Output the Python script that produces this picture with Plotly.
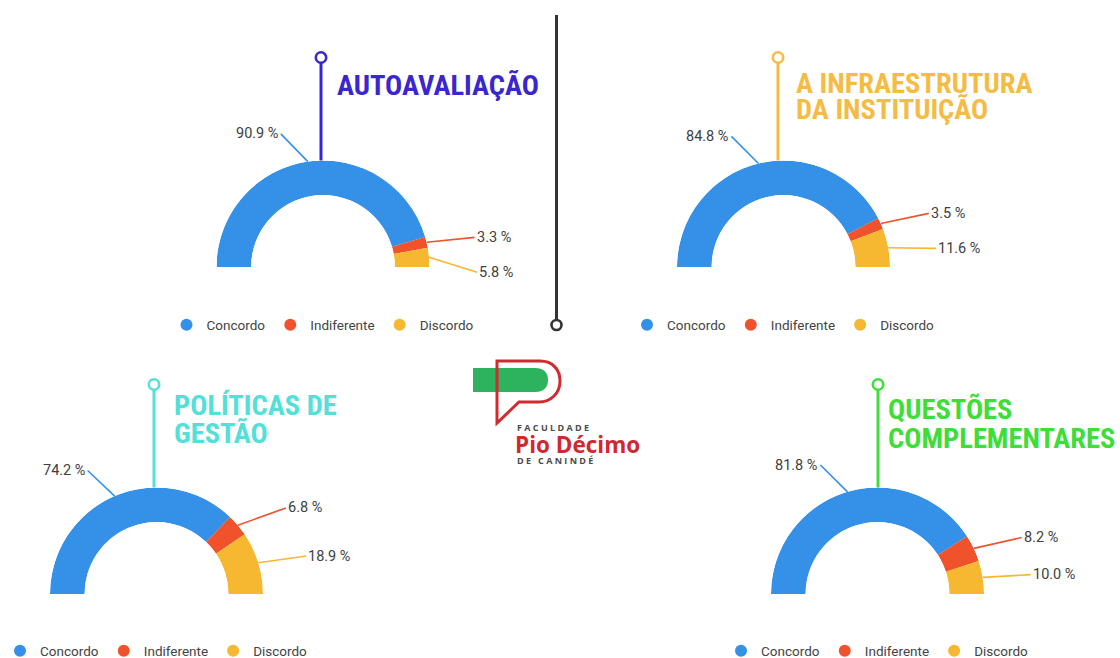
import math
import plotly.graph_objects as go

# ---------------- data ----------------
categories = ["Concordo", "Indiferente", "Discordo"]
chart_titles = [
    ["AUTOAVALIAÇÃO"],
    ["A INFRAESTRUTURA", "DA INSTITUIÇÃO"],
    ["POLÍTICAS DE", "GESTÃO"],
    ["QUESTÕES", "COMPLEMENTARES"],
]
autoavaliacao = [90.9, 3.3, 5.8]
infraestrutura = [84.8, 3.5, 11.6]
politicas_gestao = [74.2, 6.8, 18.9]
questoes_complementares = [81.8, 8.2, 10.0]
series = [autoavaliacao, infraestrutura, politicas_gestao, questoes_complementares]

# ---------------- style / layout ----------------
W, H = 1120, 658
slice_colors = ["#3591E8", "#F0522C", "#F5B830"]
title_colors = ["#3A26CF", "#F5BC45", "#52E0D8", "#3FDD3A"]
centers = [(323, 267), (783.5, 267), (156.5, 594), (877.5, 594)]
R = 106.5
HOLE = 0.675
pin_x = [321, 778, 154, 878]
pin_len = 103
title_x = [335, 794, 172, 886]
title_y = [[85], [83, 110], [405, 433], [410, 438]]
legend_y = [325, 325, 651, 651]
label_color = "#404040"
TITLE_FONT = "Roboto Condensed, Roboto, Arial"
TEXT_FONT = "Roboto, Arial"


def px(x):
    return x / W


def py(y):
    return 1 - y / H


def P(x, y):
    return f"{px(x):.5f},{py(y):.5f}"


fig = go.Figure()
annotations = []
shapes = []


def circle(x, y, r, color, width):
    shapes.append(dict(type="circle", xref="paper", yref="paper",
                       x0=px(x - r), x1=px(x + r), y0=py(y + r), y1=py(y - r),
                       line=dict(color=color, width=width), fillcolor="white", layer="above"))


for i, vals in enumerate(series):
    cx, cy = centers[i]
    sp = "polar" if i == 0 else f"polar{i + 1}"
    lg = "legend" if i == 0 else f"legend{i + 1}"
    tot = sum(vals)
    thetas, widths = [], []
    cum = 0
    for v in vals:
        widths.append(v / tot * 180)
        thetas.append((cum + v / 2) / tot * 180)
        cum += v
    fig.add_trace(go.Barpolar(
        r=[1] * len(vals), theta=thetas, width=widths,
        marker=dict(color=slice_colors, line=dict(width=0)),
        subplot=sp, showlegend=False, hoverinfo="skip"))
    # legend entries (circle symbols)
    for k, cat in enumerate(categories):
        fig.add_trace(go.Scatter(x=[None], y=[None], mode="markers", name=cat,
                                 marker=dict(size=12, color=slice_colors[k]),
                                 legend=lg, showlegend=True))
    fig.update_layout({
        sp: dict(
            domain=dict(x=[px(cx - R), px(cx + R)], y=[py(cy), py(cy - R)]),
            sector=[0, 180], hole=HOLE, bgcolor="rgba(0,0,0,0)",
            radialaxis=dict(visible=False, range=[0, 1]),
            angularaxis=dict(visible=False, direction="clockwise", rotation=180),
        ),
        lg: dict(orientation="h", x=px(cx), xanchor="center", y=py(legend_y[i]),
                 yanchor="middle", xref="paper", yref="paper",
                 font=dict(family=TEXT_FONT, size=13.5, color="#444444"),
                 bgcolor="rgba(0,0,0,0)", itemwidth=30),
    })
    # percentage labels with connectors
    prev_right_y = None
    for k, v in enumerate(vals):
        ang = math.radians(180 - thetas[k])
        tipx = cx + R * math.cos(ang)
        tipy = cy - R * math.sin(ang)
        ly = cy - (R + 30) * math.sin(ang) + 2
        right = math.cos(ang) > 0
        if right:
            if prev_right_y is not None and ly < prev_right_y + 35:
                ly = prev_right_y + 35
            prev_right_y = ly
            lx = tipx + 48
        else:
            lx = tipx - 27
        annotations.append(dict(
            x=px(tipx), y=py(tipy), xref="paper", yref="paper",
            ax=lx - tipx, ay=ly - tipy, axref="pixel", ayref="pixel",
            text=f"{v:.1f} %", showarrow=True, arrowhead=0, arrowwidth=1.6,
            arrowcolor=slice_colors[k], standoff=0, startstandoff=0,
            xanchor="left" if right else "right", yanchor="middle",
            font=dict(family=TEXT_FONT, size=14.5, color=label_color)))
    # title pin
    top = cy - R
    cyc = top - pin_len
    shapes.append(dict(type="line", xref="paper", yref="paper",
                       x0=px(pin_x[i]), x1=px(pin_x[i]), y0=py(top), y1=py(cyc + 5),
                       line=dict(color=title_colors[i], width=3)))
    circle(pin_x[i], cyc, 5.2, title_colors[i], 2.6)
    for line_txt, ty in zip(chart_titles[i], title_y[i]):
        annotations.append(dict(
            x=px(title_x[i]), y=py(ty), xref="paper", yref="paper",
            text=f"<b>{line_txt}</b>", showarrow=False, xanchor="left", yanchor="middle",
            font=dict(family=TITLE_FONT, size=28.5, color=title_colors[i])))

# central divider
shapes.append(dict(type="line", xref="paper", yref="paper",
                   x0=px(556.5), x1=px(556.5), y0=py(15), y1=py(320),
                   line=dict(color="#333333", width=3)))
circle(556.5, 325, 5, "#333333", 2.6)

# logo
green_path = (f"M{P(473, 368)} L{P(535, 368)} C{P(545, 368)} {P(548, 374)} {P(548, 380)} "
              f"C{P(548, 386)} {P(545, 392)} {P(535, 392)} L{P(473, 392)} Z")
shapes.append(dict(type="path", xref="paper", yref="paper", path=green_path,
                   fillcolor="#2DB35D", line=dict(width=0)))
red_path = (f"M{P(497, 423)} L{P(497, 361)} L{P(540, 361)} C{P(553, 361)} {P(560, 370)} {P(560, 381)} "
            f"C{P(560, 393)} {P(551, 402)} {P(539, 402)} L{P(519, 402)} Z")
shapes.append(dict(type="path", xref="paper", yref="paper", path=red_path,
                   fillcolor="rgba(0,0,0,0)", line=dict(color="#D22B2F", width=3)))
sep = "\u00a0"
annotations.append(dict(x=px(515), y=py(427), xref="paper", yref="paper", showarrow=False,
                        xanchor="left", yanchor="middle",
                        text="<b>" + sep.join("FACULDADE") + "</b>",
                        font=dict(family="Open Sans, Roboto", size=9, color="#4A4A4A")))
annotations.append(dict(x=px(513), y=py(444), xref="paper", yref="paper", showarrow=False,
                        xanchor="left", yanchor="middle", text="<b>Pio Décimo</b>",
                        font=dict(family="Open Sans, Roboto", size=22.5, color="#D0282E")))
annotations.append(dict(x=px(515), y=py(460), xref="paper", yref="paper", showarrow=False,
                        xanchor="left", yanchor="middle",
                        text="<b>" + sep.join("DE") + "\u00a0\u00a0\u00a0" + sep.join("CANINDÉ") + "</b>",
                        font=dict(family="Open Sans, Roboto", size=9, color="#4A4A4A")))

fig.update_layout(
    width=W, height=H,
    margin=dict(l=0, r=0, t=0, b=0, autoexpand=False),
    paper_bgcolor="white", plot_bgcolor="white",
    xaxis=dict(visible=False), yaxis=dict(visible=False),
    showlegend=True,
    annotations=annotations, shapes=shapes,
    font=dict(family=TEXT_FONT),
)

fig.write_html("out.html", config={"displayModeBar": False},
               post_script="document.body.style.margin='0';")
